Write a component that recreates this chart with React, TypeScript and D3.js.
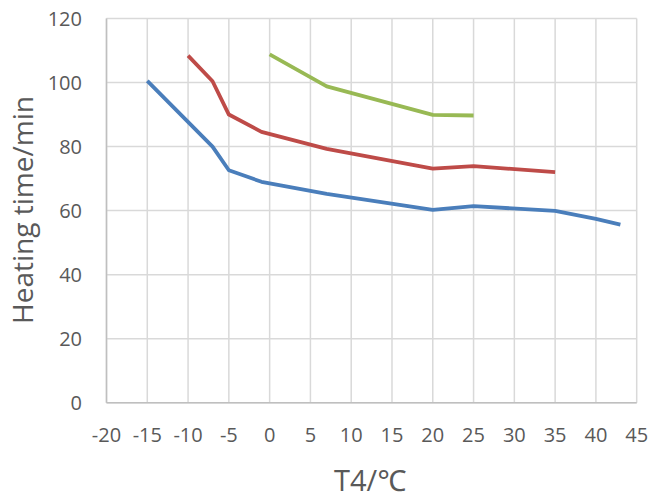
import React from "react";
import * as d3 from "d3";

const xTicks = [-20, -15, -10, -5, 0, 5, 10, 15, 20, 25, 30, 35, 40, 45];
const yTicks = [0, 20, 40, 60, 80, 100, 120];

const blueX = [-15, -7, -5, -1, 7, 20, 25, 35, 40, 43];
const blueY = [100.5, 80, 72.6, 69, 65.2, 60.2, 61.4, 59.9, 57.4, 55.6];
const redX = [-10, -7, -5, -1, 7, 20, 25, 35];
const redY = [108.4, 100.4, 90, 84.6, 79.3, 73.1, 73.9, 72];
const greenX = [0, 7, 20, 25];
const greenY = [108.8, 98.8, 89.9, 89.7];

const series = [
  { xs: blueX, ys: blueY, color: "#4A7EBB" },
  { xs: redX, ys: redY, color: "#BE4B48" },
  { xs: greenX, ys: greenY, color: "#98B954" },
];

export default function App() {
  const W = 651, H = 498;
  const x = d3.scaleLinear().domain([-20, 45]).range([106.5, 636.7]);
  const y = d3.scaleLinear().domain([0, 120]).range([402.7, 18.5]);
  const line = d3.line<[number, number]>().x((d) => x(d[0])).y((d) => y(d[1]));
  const font = "'Open Sans', 'Noto Sans', sans-serif";
  return (
    <svg width={W} height={H} style={{ position: "absolute", left: 0, top: 0 }} fontFamily={font}>
      <rect width={W} height={H} fill="#fff" />
      {xTicks.map((t) => (
        <line key={"gx" + t} x1={x(t)} x2={x(t)} y1={y(0)} y2={y(120)} stroke="#d9d9d9" strokeWidth={1.5} />
      ))}
      {yTicks.map((t) => (
        <line key={"gy" + t} x1={x(-20)} x2={x(45)} y1={y(t)} y2={y(t)} stroke="#d9d9d9" strokeWidth={1.5} />
      ))}
      <line x1={x(-20)} x2={x(45)} y1={y(0)} y2={y(0)} stroke="#bfbfbf" strokeWidth={1.5} />
      <line x1={x(-20)} x2={x(-20)} y1={y(0)} y2={y(120)} stroke="#bfbfbf" strokeWidth={1.5} />
      {series.map((s, i) => (
        <path
          key={i}
          d={line(s.xs.map((v, j) => [v, s.ys[j]] as [number, number])) || ""}
          fill="none"
          stroke={s.color}
          strokeWidth={3.8}
          strokeLinejoin="round"
        />
      ))}
      {yTicks.map((t) => (
        <text key={"ty" + t} x={82} y={y(t)} dy="0.36em" textAnchor="end" fontSize={20} fill="#595959">
          {t}
        </text>
      ))}
      {xTicks.map((t) => (
        <text key={"tx" + t} x={x(t)} y={441.5} textAnchor="middle" fontSize={20} fill="#595959">
          {t}
        </text>
      ))}
      <text x={370} y={491} textAnchor="middle" fontSize={29} fill="#595959">
        T4/℃
      </text>
      <text
        transform="translate(32.7,210) rotate(-90)"
        textAnchor="middle"
        fontSize={28}
        fill="#595959"
      >
        Heating time/min
      </text>
    </svg>
  );
}
